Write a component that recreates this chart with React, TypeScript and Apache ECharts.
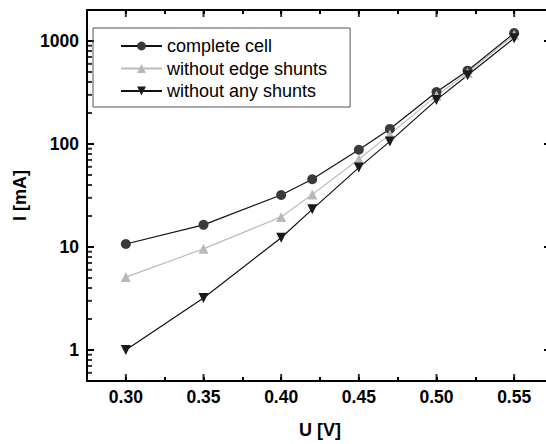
import React, { useEffect, useRef } from "react";
import * as echarts from "echarts";

const voltages = [0.3, 0.35, 0.4, 0.42, 0.45, 0.47, 0.5, 0.52, 0.55];
const completeCell = [10.7, 16.4, 32, 45.5, 88, 140, 320, 515, 1195];
const withoutEdgeShunts = [5.1, 9.6, 19.6, 32.3, 71, 124, 295, 492, 1150];
const withoutAnyShunts = [1.0, 3.2, 12.3, 23.2, 59, 106, 268, 466, 1065];

const xMajorTicks = [0.3, 0.35, 0.4, 0.45, 0.5, 0.55];
const yMajorTicks = [1, 10, 100, 1000];
const yMinorTicks = [
  0.6, 0.7, 0.8, 0.9,
  2, 3, 4, 5, 6, 7, 8, 9,
  20, 30, 40, 50, 60, 70, 80, 90,
  200, 300, 400, 500, 600, 700, 800, 900,
];

const X_MIN = 0.275;
const X_MAX = 0.575;
const X_STEP = 0.025;
const Y_MIN = 0.5;
const Y_MAX = 2000;

const FONT = "'Liberation Sans', Arial, sans-serif";

type Side = "bottom" | "top" | "left";

function tickSeries(values: number[], side: Side, len: number) {
  const horizontal = side !== "left";
  const anchor = side === "bottom" ? Y_MIN : side === "top" ? Y_MAX : X_MIN;
  const size = horizontal ? [2, len] : [len, 2];
  const offset =
    side === "bottom" ? [0, -len / 2] : side === "top" ? [0, len / 2] : [len / 2, 0];
  return {
    type: "scatter",
    clip: false,
    silent: true,
    z: 6,
    symbol: "rect",
    symbolSize: size,
    symbolOffset: offset,
    itemStyle: { color: "#000" },
    data: values.map((v) => (horizontal ? [v, anchor] : [anchor, v])),
  };
}

export default function App() {
  const ref = useRef<HTMLDivElement>(null);
  useEffect(() => {
    if (!ref.current) return;
    const chart = echarts.init(ref.current, undefined, { renderer: "svg" });
    const line = { show: true, lineStyle: { color: "#000", width: 2 } };
    const pair = (v: number[]) => voltages.map((x, i) => [x, v[i]]);
    chart.setOption({
      animation: false,
      backgroundColor: "#fff",
      grid: { left: 87, top: 10, right: 3, bottom: 61, containLabel: false },
      xAxis: [
        {
          type: "value", min: X_MIN, max: X_MAX, interval: X_STEP, position: "bottom",
          splitLine: { show: false },
          axisLine: line,
          axisTick: { show: true, inside: true, length: 4, lineStyle: { color: "#000", width: 2 } },
          axisLabel: {
            customValues: xMajorTicks,
            formatter: (v: number) => v.toFixed(2),
            fontFamily: FONT, fontWeight: "bold", fontSize: 17.5, color: "#000", margin: 7,
          },
          name: "U [V]", nameLocation: "middle", nameGap: 40,
          nameTextStyle: { fontFamily: FONT, fontWeight: "bold", fontSize: 18, color: "#000" },
        },
        {
          type: "value", min: X_MIN, max: X_MAX, interval: X_STEP, position: "top",
          splitLine: { show: false },
          axisLine: line,
          axisTick: { show: true, inside: true, length: 4, lineStyle: { color: "#000", width: 2 } },
          axisLabel: { show: false },
        },
      ],
      yAxis: [
        {
          type: "log", logBase: 10, min: Y_MIN, max: Y_MAX, position: "left",
          splitLine: { show: false },
          axisLine: line,
          axisTick: { show: true, inside: true, length: 7, lineStyle: { color: "#000", width: 2 } },
          axisLabel: {
            customValues: yMajorTicks,
            formatter: (v: number) => String(v),
            fontFamily: FONT, fontWeight: "bold", fontSize: 17.5, color: "#000", margin: 8,
          },
          name: "I [mA]", nameLocation: "middle", nameGap: 56,
          nameTextStyle: { fontFamily: FONT, fontWeight: "bold", fontSize: 18, color: "#000" },
        },
        {
          type: "log", logBase: 10, min: Y_MIN, max: Y_MAX, position: "right",
          splitLine: { show: false },
          axisLine: { show: false },
          axisTick: { show: true, inside: true, length: 9, lineStyle: { color: "#000", width: 2 } },
          axisLabel: { show: false },
        },
      ],
      legend: {
        left: 93, top: 28, orient: "vertical",
        borderColor: "#555", borderWidth: 1,
        padding: [9, 23, 7, 27],
        itemWidth: 41, itemHeight: 11, itemGap: 4.5,
        textStyle: { fontFamily: FONT, fontSize: 18, color: "#000" },
        data: ["complete cell", "without edge shunts", "without any shunts"],
      },
      series: [
        tickSeries(xMajorTicks, "bottom", 7),
        tickSeries(xMajorTicks, "top", 7),
        tickSeries(yMinorTicks, "left", 5),
        {
          name: "complete cell", type: "line", data: pair(completeCell),
          symbol: "circle", symbolSize: 10, z: 3,
          lineStyle: { color: "#111", width: 1.2 },
          itemStyle: { color: "#3a3a3a" },
        },
        {
          name: "without edge shunts", type: "line", data: pair(withoutEdgeShunts),
          symbol: "triangle", symbolSize: 10, z: 3,
          lineStyle: { color: "#bcbcbc", width: 1.2 },
          itemStyle: { color: "#b8b8b8" },
        },
        {
          name: "without any shunts", type: "line", data: pair(withoutAnyShunts),
          symbol: "triangle", symbolRotate: 180, symbolSize: 10, z: 3,
          lineStyle: { color: "#111", width: 1.2 },
          itemStyle: { color: "#1a1a1a" },
        },
      ],
    });
    return () => chart.dispose();
  }, []);
  return (
    <div style={{ position: "absolute", left: 0, top: 0, width: 546, height: 444, overflow: "hidden" }}>
      <div ref={ref} style={{ width: 556, height: 444 }} />
    </div>
  );
}
